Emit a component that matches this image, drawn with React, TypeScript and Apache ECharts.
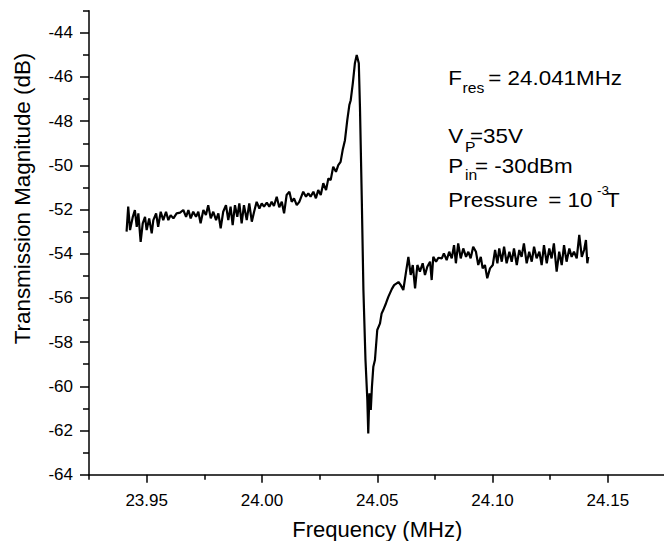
import React, { useEffect, useRef } from 'react';
import * as echarts from 'echarts';

const freqMHz = [
  23.9413, 23.942, 23.9428, 23.944, 23.9449, 23.9457, 23.9464, 23.9474, 23.9483, 23.9493,
  23.95, 23.9511, 23.9522, 23.9529, 23.9541, 23.955, 23.9561, 23.9572, 23.9584, 23.9594,
  23.9604, 23.9616, 23.963, 23.9645, 23.9659, 23.9671, 23.9681, 23.9691, 23.9702, 23.9714,
  23.9724, 23.9734, 23.9746, 23.9757, 23.9767, 23.9778, 23.9789, 23.9801, 23.9811, 23.9821,
  23.9832, 23.9844, 23.9854, 23.9864, 23.9873, 23.9883, 23.9893, 23.9902, 23.9912, 23.9922,
  23.9934, 23.9945, 23.9956, 23.9966, 23.9977, 23.9989, 23.9999, 24.0009, 24.0021, 24.0032,
  24.0042, 24.0052, 24.0064, 24.0075, 24.0086, 24.0096, 24.0107, 24.0119, 24.0129, 24.0139,
  24.0151, 24.0162,
  24.0179, 24.0191, 24.0201, 24.0211, 24.0223, 24.0234, 24.0244, 24.0255, 24.0266, 24.0278,
  24.0288, 24.0298, 24.0309, 24.0321, 24.0331, 24.0341, 24.035, 24.036, 24.037, 24.0379,
  24.0385, 24.0394, 24.0403, 24.0411, 24.042, 24.0425, 24.0433, 24.044, 24.0449, 24.0457,
  24.0461, 24.0466, 24.0472, 24.0477, 24.0483, 24.049, 24.05, 24.0512, 24.0519, 24.0526,
  24.0538, 24.0548, 24.0563, 24.0573, 24.0584, 24.0592, 24.0602, 24.0613, 24.0625, 24.0635,
  24.0645, 24.0654, 24.0664, 24.0674, 24.0685, 24.0697, 24.0707, 24.0717, 24.0729, 24.0736,
  24.0743, 24.0755, 24.0765, 24.078, 24.0789, 24.0801, 24.0812, 24.0823, 24.0833, 24.0841,
  24.0851, 24.0862, 24.0873, 24.0885, 24.0895, 24.0905, 24.0916, 24.0928, 24.0938, 24.0949,
  24.0957, 24.0967, 24.0977, 24.0989, 24.1001, 24.1011, 24.1021, 24.1029, 24.104, 24.105,
  24.1061, 24.1073, 24.1083, 24.1093, 24.1105, 24.1116, 24.1126, 24.1136, 24.1148, 24.1159,
  24.117, 24.118, 24.1191, 24.1203, 24.1213, 24.1223, 24.1235, 24.1246, 24.1256, 24.1266,
  24.1278, 24.1289, 24.13, 24.131, 24.1321, 24.1333, 24.1343, 24.1353, 24.1365, 24.1376,
  24.1387, 24.1397, 24.1405, 24.1411, 24.1415,
];

const magnitudeDb = [
  -53.0, -51.87, -52.93, -52.33, -52.02, -52.78, -52.17, -53.46, -52.62, -52.33,
  -52.93, -52.4, -53.08, -52.48, -52.17, -52.78, -52.1, -52.48, -52.1, -52.48,
  -52.25, -52.4, -52.17, -52.14, -52.02, -52.33, -52.02, -52.4, -52.1, -52.33,
  -52.1, -52.62, -52.02, -52.25, -51.8, -52.4, -52.1, -52.48, -52.17, -52.85,
  -52.1, -51.8, -52.48, -51.87, -52.7, -51.8, -52.33, -51.72, -52.62, -51.8,
  -52.48, -51.72, -52.55, -52.1, -51.65, -51.95, -51.72, -51.87, -51.69, -51.87,
  -51.65, -51.84, -51.42, -51.9, -51.65, -52.17, -51.34, -51.19, -51.65, -51.49,
  -51.8, -51.65,
  -51.19, -51.42, -51.27, -51.42, -51.19, -51.49, -51.12, -51.34, -50.81, -51.12,
  -50.59, -50.67, -50.06, -50.29, -49.99, -49.84, -49.31, -48.86, -47.95, -47.27,
  -47.05, -46.29, -45.38, -45.01, -45.38, -47.35, -51.57, -55.64, -58.81, -60.62,
  -62.13, -60.32, -61.07, -60.02, -59.11, -58.81, -57.45, -57.15, -56.7, -56.55,
  -56.24, -55.95, -55.6, -55.42, -55.34, -55.28, -55.42, -55.64, -54.81, -54.14,
  -54.96, -54.51, -55.57, -54.51, -54.81, -54.43, -54.96, -54.59, -54.36, -55.19,
  -54.14, -54.36, -54.18, -54.21, -53.98, -54.29, -53.91, -54.21, -53.61, -54.43,
  -53.53, -54.21, -53.76, -54.14, -53.91, -54.21, -53.68, -53.91, -54.51, -54.14,
  -54.66, -54.51, -55.11, -54.66, -54.51, -53.83, -54.43, -53.76, -54.36, -53.68,
  -54.43, -53.91, -54.36, -53.76, -54.51, -53.83, -54.14, -53.53, -54.43, -53.91,
  -54.36, -53.68, -54.21, -53.91, -54.51, -53.61, -54.43, -53.76, -54.21, -53.53,
  -54.81, -53.91, -54.51, -53.61, -54.36, -53.76, -54.14, -53.91, -54.21, -53.15,
  -54.14, -53.83, -53.38, -54.43, -54.14,
];

const xMajorTicks = [23.95, 24.0, 24.05, 24.1, 24.15];
const xMinorTicks = [23.925, 23.975, 24.025, 24.075, 24.125, 24.175];
const yMajorTicks = [-64, -62, -60, -58, -56, -54, -52, -50, -48, -46, -44];
const yMinorTicks = [-63, -61, -59, -57, -55, -53, -51, -49, -47, -45, -43];

const X_MIN = 23.925;
const X_MAX = 24.175;
const Y_MIN = -64;
const Y_MAX = -43;

const X_TITLE = 'Frequency (MHz)';
const Y_TITLE = 'Transmission Magnitude (dB)';

const FONT = '"Liberation Sans", Arial, Helvetica, sans-serif';

export default function App() {
  const ref = useRef<HTMLDivElement>(null);

  useEffect(() => {
    const chart = echarts.init(ref.current!, null, { renderer: 'svg' });
    const data = freqMHz.map((f, i) => [f, magnitudeDb[i]]);
    const axisLineStyle = { color: '#000', width: 1.5 };

    const txt = (text: string, x: number, y: number, size: number) => ({
      type: 'text',
      x,
      y,
      scaleX: 1.12,
      style: {
        text,
        fill: '#000',
        fontSize: size,
        fontFamily: FONT,
        align: 'left',
        verticalAlign: 'middle',
      },
    });

    chart.setOption({
      animation: false,
      backgroundColor: '#ffffff',
      grid: {
        left: 89,
        top: 10.7,
        width: 576.5,
        height: 464,
        containLabel: false,
        outerBoundsMode: 'none',
      },
      xAxis: [
        {
          type: 'value',
          min: X_MIN,
          max: X_MAX,
          position: 'bottom',
          name: X_TITLE,
          nameLocation: 'middle',
          nameGap: 44,
          nameTextStyle: { color: '#000', fontSize: 22, fontFamily: FONT },
          axisLine: { show: true, onZero: false, lineStyle: axisLineStyle },
          axisTick: { show: true, customValues: xMajorTicks, length: 8, lineStyle: axisLineStyle },
          axisLabel: {
            customValues: xMajorTicks,
            formatter: (v: number) => v.toFixed(2),
            margin: 17,
            color: '#000',
            fontSize: 17,
            fontFamily: FONT,
          },
          splitLine: { show: false },
        },
        {
          type: 'value',
          min: X_MIN,
          max: X_MAX,
          position: 'bottom',
          axisLine: { show: false },
          axisTick: { show: true, customValues: xMinorTicks, length: 5, lineStyle: axisLineStyle },
          axisLabel: { show: false },
          splitLine: { show: false },
        },
      ],
      yAxis: [
        {
          type: 'value',
          min: Y_MIN,
          max: Y_MAX,
          position: 'left',
          axisLine: { show: true, onZero: false, lineStyle: axisLineStyle },
          axisTick: { show: true, customValues: yMajorTicks, length: 9, lineStyle: axisLineStyle },
          axisLabel: {
            customValues: yMajorTicks,
            margin: 16,
            color: '#000',
            fontSize: 17,
            fontFamily: FONT,
          },
          splitLine: { show: false },
        },
        {
          type: 'value',
          min: Y_MIN,
          max: Y_MAX,
          position: 'left',
          axisLine: { show: false },
          axisTick: { show: true, customValues: yMinorTicks, length: 6, lineStyle: axisLineStyle },
          axisLabel: { show: false },
          splitLine: { show: false },
        },
      ],
      series: [
        {
          type: 'line',
          xAxisIndex: 0,
          yAxisIndex: 0,
          data,
          symbol: 'none',
          showSymbol: false,
          lineStyle: { color: '#000', width: 2.2 },
          itemStyle: { color: '#000' },
        },
      ],
      graphic: [
        {
          type: 'text',
          x: 22,
          y: 198.5,
          rotation: Math.PI / 2,
          style: {
            text: Y_TITLE,
            fill: '#000',
            fontSize: 22.4,
            fontFamily: FONT,
            align: 'center',
            verticalAlign: 'middle',
          },
        },
        txt('F', 448.3, 78, 20),
        txt('res', 462.5, 88.5, 14),
        txt('= 24.041MHz', 488.3, 78, 20),
        txt('V', 448.3, 136, 20),
        txt('P', 465, 147, 14),
        txt('=35V', 470, 136, 20),
        txt('P', 448.3, 165.7, 20),
        txt('in', 465, 175.5, 14),
        txt('= -30dBm', 475, 165.7, 20),
        txt('Pressure', 448.3, 199.7, 20),
        txt('= 10', 548.3, 199.7, 20),
        txt('-3', 597, 190.5, 12),
        txt('T', 606, 199.7, 20),
      ],
    });

    return () => chart.dispose();
  }, []);

  return (
    <div
      ref={ref}
      style={{ position: 'fixed', left: 0, top: 0, width: 664, height: 541, background: '#fff' }}
    />
  );
}
